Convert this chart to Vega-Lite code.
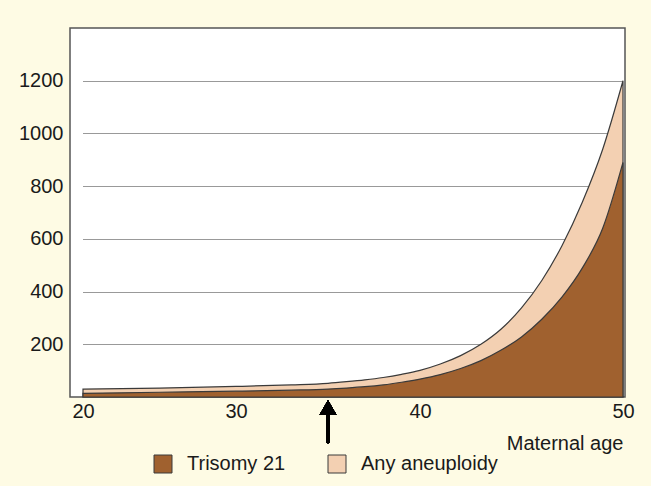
{
  "$schema": "https://vega.github.io/schema/vega-lite/v6.json",
  "width": 555,
  "height": 369,
  "autosize": {"type": "none"},
  "padding": {"left": 70, "top": 28, "right": 26, "bottom": 89},
  "background": "#fefbe4",
  "config": {
    "font": "Liberation Sans",
    "view": {"fill": "white", "stroke": "#555555", "strokeWidth": 1.5}
  },
  "data": {
    "values": [
      {"age": 20, "trisomy": 14, "any": 30},
      {"age": 25, "trisomy": 18, "any": 34},
      {"age": 30, "trisomy": 22, "any": 40},
      {"age": 33, "trisomy": 26, "any": 46},
      {"age": 35, "trisomy": 30, "any": 52},
      {"age": 36, "trisomy": 34, "any": 58},
      {"age": 37, "trisomy": 39, "any": 65},
      {"age": 38, "trisomy": 46, "any": 74},
      {"age": 39, "trisomy": 56, "any": 86},
      {"age": 40, "trisomy": 68, "any": 101},
      {"age": 41, "trisomy": 85, "any": 125},
      {"age": 42, "trisomy": 108, "any": 157},
      {"age": 43, "trisomy": 138, "any": 200},
      {"age": 44, "trisomy": 178, "any": 258},
      {"age": 45, "trisomy": 228, "any": 338},
      {"age": 46, "trisomy": 295, "any": 442},
      {"age": 47, "trisomy": 380, "any": 575},
      {"age": 48, "trisomy": 490, "any": 740},
      {"age": 49, "trisomy": 640, "any": 940},
      {"age": 50, "trisomy": 890, "any": 1200}
    ]
  },
  "encoding": {
    "x": {
      "field": "age",
      "type": "quantitative",
      "scale": {"domain": [20, 30, 40, 50], "range": [13, 166, 350, 553], "nice": false, "zero": false},
      "axis": {
        "values": [20, 30, 40, 50],
        "ticks": false,
        "domain": false,
        "grid": false,
        "labelFlush": false,
        "labelFontSize": 20,
        "labelColor": "#1a1a1a",
        "labelPadding": 4,
        "title": "Maternal age",
        "titleFontSize": 20,
        "titleFontWeight": "normal",
        "titleColor": "#1a1a1a",
        "titleAnchor": "end",
        "titleAlign": "right",
        "titleX": 553,
        "titleY": 52,
        "titleBaseline": "alphabetic"
      }
    }
  },
  "layer": [
    {
      "mark": {"type": "area", "interpolate": "monotone", "stroke": "#3a3a3a", "strokeWidth": 1.2, "opacity": 1},
      "encoding": {
        "y": {
          "field": "any",
          "type": "quantitative",
          "scale": {"domain": [0, 1400], "nice": false},
          "axis": {
            "values": [200, 400, 600, 800, 1000, 1200],
            "format": "d",
            "ticks": false,
            "domain": false,
            "grid": true,
            "gridColor": "#333333",
            "gridDash": [1, 1],
            "gridWidth": 1,
            "labelFontSize": 20,
            "labelColor": "#1a1a1a",
            "labelPadding": 7,
            "title": null
          }
        },
        "color": {
          "datum": "Any aneuploidy",
          "scale": {"domain": ["Trisomy 21", "Any aneuploidy"], "range": ["#a0612f", "#f3d0b2"]},
          "legend": {
            "orient": "none",
            "direction": "horizontal",
            "legendX": 83,
            "legendY": 426,
            "title": null,
            "symbolType": "square",
            "symbolSize": 324,
            "symbolStrokeColor": "#333333",
            "symbolStrokeWidth": 1,
            "symbolOpacity": 1,
            "labelFontSize": 20,
            "labelColor": "#1a1a1a",
            "labelOffset": 14,
            "columnPadding": 40
          }
        }
      }
    },
    {
      "mark": {"type": "area", "interpolate": "monotone", "stroke": "#3a3a3a", "strokeWidth": 1.2, "opacity": 1},
      "encoding": {
        "y": {"field": "trisomy", "type": "quantitative"},
        "color": {"datum": "Trisomy 21"}
      }
    },
    {
      "mark": {"type": "rule", "color": "black", "strokeWidth": 2.5},
      "encoding": {
        "x": {"datum": 35},
        "y": {"datum": -60},
        "y2": {"datum": -175}
      }
    },
    {
      "mark": {"type": "point", "shape": "triangle-up", "filled": true, "color": "black", "size": 280, "opacity": 1},
      "encoding": {
        "x": {"datum": 35},
        "y": {"datum": -40}
      }
    }
  ]
}
